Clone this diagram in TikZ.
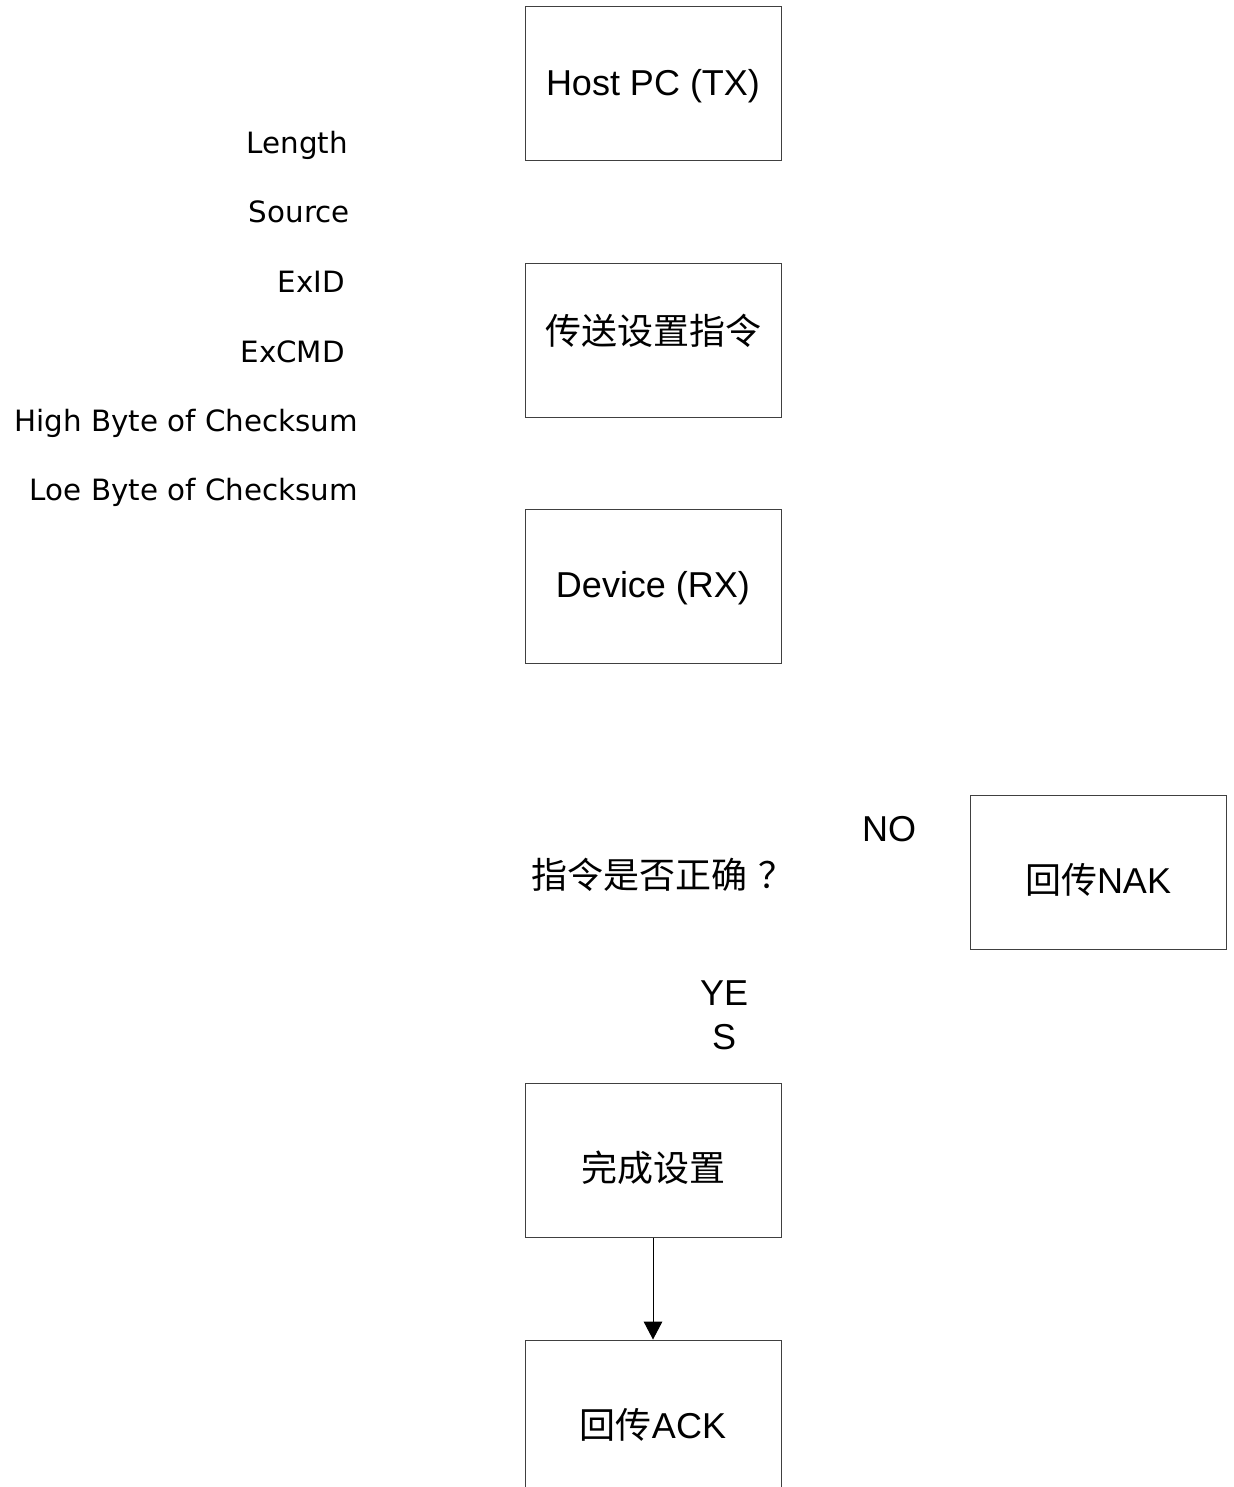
\documentclass[tikz,border=0pt]{standalone}
\usepackage{fontspec}
\setmainfont{Liberation Sans}
\newfontfamily\cjk{Noto Sans CJK SC}
\newfontfamily\labfont{DejaVu Sans}
\usetikzlibrary{arrows.meta}

\begin{document}
\begin{tikzpicture}[x=0.75pt, y=-0.75pt,
	stepbox/.style={draw=black!75, line width=0.75pt, minimum width=192pt, minimum height=115.5pt, inner sep=0pt, text depth=0pt, font=\fontsize{27}{32}\selectfont},
	plain/.style={inner sep=0pt, font=\fontsize{27}{33}\selectfont, align=center},
	field/.style={inner sep=0pt, anchor=base east, font=\labfont\fontsize{22}{26}\selectfont}]
	%%%%% START %%%%%
	\useasboundingbox (0, 0) rectangle (1233, 1487);
	\clip (0, 0) rectangle (1233, 1487);
	
	% frame fields
	\node[field] (len) at (348, 154) {Length};
	\node[field] (src) at (350, 223) {Source};
	\node[field] (exid) at (345, 292) {ExID};
	\node[field] (excmd) at (345, 362) {ExCMD};
	\node[field] (hib) at (358, 431) {High Byte of Checksum};
	\node[field] (lob) at (358, 500) {Loe Byte of Checksum};
	
	% main column
	\node[stepbox, text height=17.9pt] (host) at (653, 84) {Host PC (TX)};
	\node[stepbox, text height=5.4pt] (cmd) at (653, 340.5) {\cjk 传送设置指令};
	\node[stepbox, text height=17pt] (device) at (653, 586.5) {Device (RX)};
	\node[plain] (check) at (663, 875) {\cjk 指令是否正确\hspace{0.3em}？};
	\node[plain] (no) at (889, 829) {NO};
	\node[stepbox, text height=31.1pt] (nak) at (1098, 872.5) {{\cjk 回传}NAK};
	\node[plain] (yes) at (724, 1015) {YE\\S};
	\node[stepbox, text height=31.8pt] (done) at (653, 1160) {\cjk 完成设置};
	\node[stepbox, text height=32.6pt] (ack) at (653, 1417) {{\cjk 回传}ACK};
	
	\draw[line width=0.75pt, -{Triangle[width=14pt, length=13.5pt]}] (done) -- (ack);
	
	%%%%% END %%%%%
\end{tikzpicture}
\end{document}
